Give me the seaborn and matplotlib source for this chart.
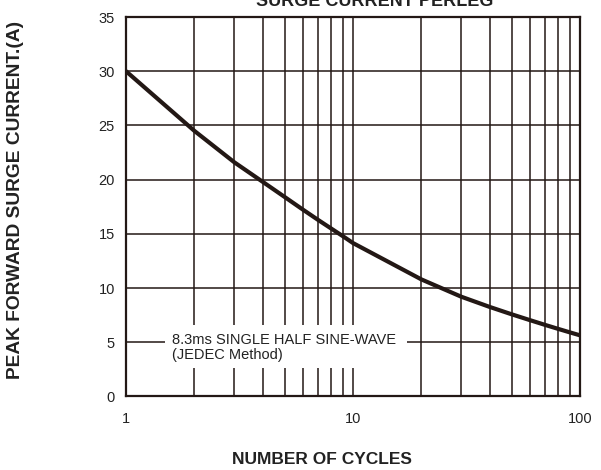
import pandas as pd
import seaborn as sns
import matplotlib.pyplot as plt
import matplotlib.ticker as mticker
from matplotlib.patches import Rectangle

# Data
cycles = [1, 2, 3, 4, 5, 6, 7, 8, 9, 10, 20, 30, 40, 50, 60, 70, 80, 90, 100]
current = [30, 24.5, 21.6, 19.8, 18.4, 17.25, 16.3, 15.5, 14.8, 14.15,
           10.8, 9.2, 8.26, 7.58, 7.05, 6.61, 6.24, 5.92, 5.64]
yTicks = [0, 5, 10, 15, 20, 25, 30, 35]
xTicks = [1, 10, 100]
xTickLabels = ['1', '10', '100']
data = pd.DataFrame({'cycles': cycles, 'current': current})

# Styles
sns.set_style('white')
plt.rcParams['font.family'] = ['Liberation Sans', 'DejaVu Sans']
ink = '#231815'
txt = '#222222'
gridLw = 1.1
curveLw = 3.0

fig = plt.figure(figsize=(6.01, 4.70), dpi=100)
ax = fig.add_axes([0.2097, 0.1564, 0.7554, 0.8074])
sns.lineplot(x='cycles', y='current', data=data, color=ink, lw=curveLw, ax=ax, zorder=4)
ax.set_xscale('log')
ax.set_xlim(1, 100)
ax.set_ylim(0, 35)
ax.set_xticks(xTicks)
ax.set_xticklabels(xTickLabels)
ax.xaxis.set_minor_locator(mticker.LogLocator(base=10, subs=range(2, 10)))
ax.xaxis.set_minor_formatter(mticker.NullFormatter())
ax.set_yticks(yTicks)
ax.tick_params(which='both', length=0, labelsize=10.5, colors=txt)
ax.tick_params(axis='x', pad=11)
ax.tick_params(axis='y', pad=8)
ax.grid(True, which='both', color=ink, lw=gridLw)
for s in ax.spines.values():
    s.set_color(ink)
    s.set_linewidth(1.6)
ax.set_xlabel('')
ax.set_ylabel('')

# Annotation box masking the grid
ax.add_patch(Rectangle((0.086, 0.075), 0.533, 0.113, transform=ax.transAxes,
                       facecolor='white', edgecolor='none', zorder=3))
ax.text(0.101, 0.149, '8.3ms SINGLE HALF SINE-WAVE', transform=ax.transAxes,
        fontsize=10.5, va='center', ha='left', color=txt, zorder=5)
ax.text(0.101, 0.109, '(JEDEC Method)', transform=ax.transAxes,
        fontsize=10.5, va='center', ha='left', color=txt, zorder=5)

fig.text(16 / 601, 1 - 200 / 470, 'PEAK FORWARD SURGE CURRENT.(A)', fontsize=13.8, fontweight='bold',
         rotation=90, ha='center', va='center', color=txt)
fig.text(322 / 601, 1 - 460 / 470, 'NUMBER OF CYCLES', fontsize=12.5, fontweight='bold',
         ha='center', va='center', color=txt)
fig.text(375 / 601, 1 - 6 / 470, 'SURGE CURRENT PERLEG', fontsize=13, fontweight='bold',
         ha='center', va='baseline', color=txt)

fig.savefig('out.png', dpi=100)
